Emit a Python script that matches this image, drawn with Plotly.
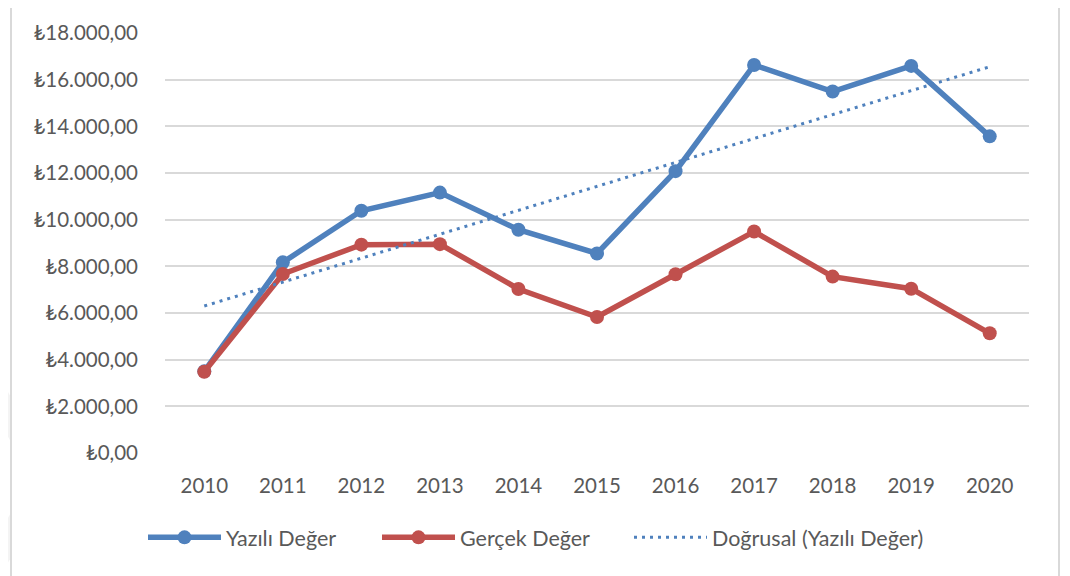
import plotly.graph_objects as go
import numpy as np

years = ["2010", "2011", "2012", "2013", "2014", "2015", "2016", "2017", "2018", "2019", "2020"]
yazili = [3500, 8170, 10380, 11160, 9570, 8550, 12080, 16630, 15490, 16590, 13570]
gercek = [3480, 7670, 8930, 8950, 7030, 5830, 7660, 9490, 7560, 7040, 5130]
y_ticks = [0, 2000, 4000, 6000, 8000, 10000, 12000, 14000, 16000, 18000]
y_tick_text = ["₺0,00", "₺2.000,00", "₺4.000,00", "₺6.000,00", "₺8.000,00",
               "₺10.000,00", "₺12.000,00", "₺14.000,00", "₺16.000,00", "₺18.000,00"]

BLUE = "#4F81BD"
RED = "#C0504D"
TXT = "#595959"
GRID = "#D9D9D9"
FONT = "Lato, 'Open Sans', sans-serif"

# linear trendline of Yazılı Değer (least squares)
xi = np.arange(len(yazili))
slope, intercept = np.polyfit(xi, yazili, 1)
trend = (slope * xi + intercept).tolist()

fig = go.Figure()
fig.add_trace(go.Scatter(x=years, y=yazili, name="Yazılı Değer", mode="lines+markers",
                         line=dict(color=BLUE, width=5.5), marker=dict(size=14, color=BLUE),
                         legend="legend"))
fig.add_trace(go.Scatter(x=years, y=gercek, name="Gerçek Değer", mode="lines+markers",
                         line=dict(color=RED, width=5.5), marker=dict(size=14, color=RED),
                         legend="legend2"))
fig.add_trace(go.Scatter(x=years, y=trend, name="Doğrusal (Yazılı Değer)", mode="lines",
                         line=dict(color=BLUE, width=3, dash="3px,5px"),
                         legend="legend3"))

OFF = 8  # page body margin
W, H = 1070, 576
PL, PR, PT, PB = 165, 1029, 30, 453  # plot area in page pixels
L = PL - OFF
T = PT - OFF
R = W - (PR - OFF)
B = H - (PB - OFF)
pw, ph = PR - PL, PB - PT


def px(x):
    return (x - PL) / pw


def py(y):
    return (PB - y) / ph


shapes = [
    dict(type="rect", xref="paper", yref="paper", x0=px(11), x1=px(1059), y0=py(590), y1=py(1),
         line=dict(color="#D9D9D9", width=2), fillcolor="rgba(0,0,0,0)", layer="below"),
    dict(type="path", xref="paper", yref="paper",
         path=f"M {px(-5)},{py(370)} L {px(10)},{py(395)} L {px(10)},{py(440)} L {px(-5)},{py(415)} Z",
         line=dict(width=0), fillcolor="rgba(200,200,200,0.2)", layer="below"),
    dict(type="path", xref="paper", yref="paper",
         path=f"M {px(-5)},{py(540)} L {px(10)},{py(515)} L {px(10)},{py(560)} L {px(-5)},{py(585)} Z",
         line=dict(width=0), fillcolor="rgba(200,200,200,0.2)", layer="below"),
]

leg_common = dict(orientation="h", yanchor="middle", y=py(538), xanchor="left",
                  itemwidth=73, font=dict(size=21.5, color=TXT), itemclick=False,
                  bgcolor="rgba(0,0,0,0)")

fig.update_layout(
    width=W, height=H,
    margin=dict(l=L, r=R, t=T, b=B),
    paper_bgcolor="white", plot_bgcolor="white",
    font=dict(family=FONT, size=20.5, color=TXT),
    showlegend=True,
    legend=dict(x=px(143), **leg_common),
    legend2=dict(x=px(377), **leg_common),
    legend3=dict(x=px(629), **leg_common),
    xaxis=dict(type="category", showgrid=False, showline=False, zeroline=False,
               ticks="", tickfont=dict(size=20.5, color=TXT), ticklabelstandoff=18,
               range=[-0.5, 10.5]),
    yaxis=dict(range=[0, 18000], tickvals=y_ticks, ticktext=y_tick_text,
               showgrid=True, gridcolor=GRID, gridwidth=1.5, zeroline=False, showline=False,
               ticks="", tickfont=dict(size=20.5, color=TXT), ticklabelstandoff=26),
    shapes=shapes,
)

fig.write_html("out.html")
